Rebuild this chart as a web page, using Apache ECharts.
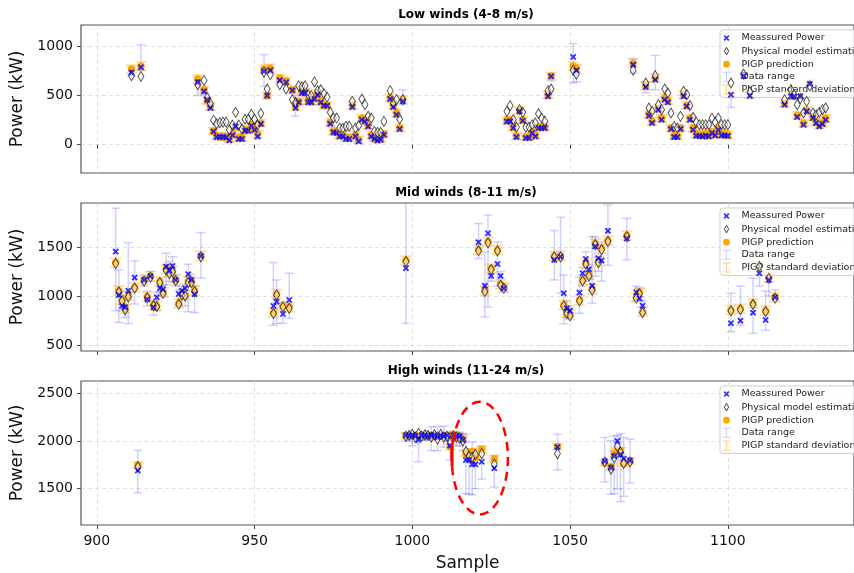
<!DOCTYPE html>
<html>
<head>
<meta charset="utf-8">
<script src="https://cdn.jsdelivr.net/npm/echarts@6/dist/echarts.min.js"></script>
<style>
html, body { margin: 0; padding: 0; background: #fff; }
#chart { width: 854px; height: 573px; }
</style>
</head>
<body>
<div id="chart"></div>
<script>
// ---- low winds (4-8 m/s) ----
const lowSample   = [911, 914, 932, 934, 935, 936, 937, 938, 939, 940, 941, 942, 943, 944, 945, 946, 947, 948, 949, 950, 951, 952, 953, 954, 955, 958, 960, 962, 963, 964, 965, 966, 967, 968, 969, 970, 971, 972, 973, 974, 975, 976, 977, 978, 979, 980, 981, 982, 983, 984, 985, 986, 987, 988, 989, 990, 991, 993, 994, 995, 996, 997,
  1030, 1031, 1032, 1033, 1034, 1035, 1036, 1037, 1038, 1039, 1040, 1041, 1042, 1043, 1044, 1051, 1052,
  1070, 1074, 1075, 1076, 1077, 1078, 1079, 1080, 1081, 1082, 1083, 1084, 1085, 1086, 1087, 1088, 1089, 1090, 1091, 1092, 1093, 1094, 1095, 1096, 1097, 1098, 1099, 1100, 1101, 1105, 1107,
  1118, 1120, 1121, 1122, 1123, 1124, 1125, 1126, 1127, 1128, 1129, 1130, 1131];
const lowMeasured = [737, 789, 636, 544, 459, 374, 136, 78, 80, 80, 75, 44, 96, 187, 58, 58, 143, 143, 194, 150, 85, 211, 748, 500, 758, 656, 636, 554, 374, 432, 527, 527, 432, 432, 466, 510, 432, 398, 398, 214, 126, 119, 85, 85, 58, 58, 384, 85, 34, 255, 238, 187, 85, 58, 44, 51, 102, 466, 384, 306, 160, 442,
  238, 238, 170, 78, 340, 245, 68, 68, 119, 85, 170, 170, 170, 493, 697, 894, 758,
  816, 588, 296, 221, 663, 357, 255, 459, 432, 160, 78, 78, 160, 493, 391, 255, 153, 92, 90, 85, 95, 85, 120, 95, 150, 95, 95, 90, 510, 700, 500,
  408, 493, 493, 282, 493, 204, 340, 620, 272, 221, 187, 211, 255];
const lowPhysical = [704, 697, 612, 655, 480, 420, 250, 215, 225, 230, 230, 150, 200, 330, 200, 160, 260, 260, 310, 260, 200, 320, 740, 568, 714, 612, 568, 459, 430, 600, 590, 600, 510, 500, 640, 550, 560, 520, 486, 330, 272, 272, 170, 170, 187, 190, 442, 170, 194, 466, 408, 290, 272, 136, 126, 126, 238, 551, 425, 459, 262, 459,
  340, 398, 255, 180, 357, 330, 180, 180, 204, 221, 316, 272, 240, 551, 568, 760, 720,
  760, 629, 374, 340, 704, 408, 357, 568, 527, 323, 187, 170, 289, 544, 510, 398, 280, 228, 204, 204, 204, 204, 272, 230, 272, 204, 204, 204, 629, 720, 540,
  459, 560, 510, 408, 470, 323, 442, 600, 323, 306, 330, 357, 374];
const lowPigp     = [772, 800, 670, 560, 450, 390, 140, 90, 80, 85, 80, 60, 110, 180, 70, 70, 150, 150, 200, 170, 110, 220, 770, 500, 780, 680, 650, 560, 390, 440, 540, 540, 450, 440, 480, 520, 440, 400, 400, 230, 140, 130, 100, 100, 70, 70, 400, 100, 50, 270, 250, 200, 100, 70, 60, 60, 110, 480, 400, 320, 170, 460,
  250, 250, 180, 90, 350, 250, 80, 80, 130, 100, 180, 180, 180, 510, 700, 800, 780,
  830, 600, 310, 240, 680, 370, 270, 480, 450, 170, 90, 90, 170, 510, 400, 270, 170, 110, 100, 100, 110, 100, 130, 110, 160, 110, 110, 100, 520, 714, 510,
  420, 500, 500, 300, 500, 220, 350, 630, 280, 230, 200, 220, 270];
const lowRangeLo  = [700, 760, 500, 510, 420, 350, 110, 60, 60, 60, 60, 30, 80, 160, 40, 40, 120, 120, 170, 130, 60, 190, 595, 480, 730, 630, 610, 520, 290, 410, 500, 500, 410, 410, 440, 490, 410, 380, 380, 190, 100, 100, 60, 60, 40, 40, 360, 60, 20, 230, 210, 160, 60, 40, 20, 30, 80, 440, 360, 280, 140, 410,
  210, 210, 150, 60, 320, 220, 50, 50, 100, 60, 150, 150, 150, 470, 650, 630, 640,
  730, 530, 270, 200, 560, 330, 230, 440, 410, 140, 60, 60, 140, 470, 370, 230, 130, 70, 70, 60, 70, 60, 100, 70, 130, 70, 70, 70, 380, 600, 470,
  390, 470, 470, 260, 470, 180, 320, 600, 250, 200, 170, 190, 230];
const lowRangeHi  = [790, 1020, 690, 580, 480, 400, 160, 100, 100, 100, 100, 70, 120, 210, 80, 80, 170, 170, 220, 180, 120, 240, 918, 520, 790, 690, 660, 580, 500, 460, 550, 550, 460, 460, 490, 530, 460, 420, 420, 240, 150, 140, 110, 110, 80, 80, 410, 110, 60, 280, 260, 210, 110, 80, 70, 70, 120, 490, 410, 330, 180, 560,
  260, 260, 190, 100, 360, 270, 90, 90, 140, 110, 190, 190, 190, 520, 720, 1030, 800,
  880, 640, 320, 250, 910, 380, 280, 490, 460, 180, 100, 100, 180, 520, 410, 280, 180, 120, 110, 110, 120, 110, 140, 120, 170, 120, 120, 110, 750, 750, 530,
  430, 520, 520, 310, 520, 230, 360, 650, 290, 240, 210, 230, 280];
const lowStd      = [40, 40, 40, 35, 35, 35, 35, 35, 35, 35, 35, 35, 35, 35, 35, 35, 35, 35, 35, 35, 35, 35, 40, 35, 40, 35, 35, 35, 35, 35, 35, 35, 35, 35, 35, 35, 35, 35, 35, 35, 35, 35, 35, 35, 35, 35, 35, 35, 35, 35, 35, 35, 35, 35, 35, 35, 35, 35, 35, 35, 35, 35,
  35, 35, 35, 35, 35, 35, 35, 35, 35, 35, 35, 35, 35, 35, 35, 40, 40,
  40, 40, 35, 35, 40, 35, 35, 35, 35, 35, 35, 35, 35, 35, 35, 35, 35, 35, 35, 35, 35, 35, 35, 35, 35, 35, 35, 35, 40, 40, 35,
  35, 35, 35, 35, 35, 35, 35, 35, 35, 35, 35, 35, 35];

// ---- mid winds (8-11 m/s) ----
const midSample   = [906, 907, 908, 909, 910, 912, 915, 916, 917, 918, 919, 920, 921, 922, 923, 924, 925, 926, 927, 928, 929, 930, 931, 933,
  956, 957, 959, 961, 998,
  1021, 1023, 1024, 1025, 1027, 1028, 1029, 1045, 1047, 1048, 1049, 1050, 1053, 1054, 1055, 1056, 1057, 1058, 1059, 1060, 1062, 1068, 1071, 1072, 1073,
  1101, 1104, 1108, 1110, 1112, 1113, 1115];
const midMeasured = [1452, 1010, 898, 884, 1054, 1187, 1163, 966, 1201, 884, 986, 1078, 1068, 1299, 1258, 1306, 1163, 1020, 1054, 1078, 1221, 1163, 1017, 1408,
  898, 942, 816, 959, 1282,
  1548, 1105, 1639, 1204, 1326, 1204, 1078, 1367, 1400, 1027, 874, 850, 1034, 1231, 1377, 1272, 1105, 1503, 1384, 1360, 1663, 1585, 1037, 976, 901,
  721, 748, 830, 1231, 755, 1163, 986];
const midPhysical = [1330, 1040, 950, 860, 990, 1080, 1150, 980, 1190, 900, 890, 1135, 1025, 1262, 1228, 1245, 1155, 915, 1010, 1000, 1136, 1136, 1044, 1398,
  820, 1010, 888, 874, 1350,
  1460, 1044, 1541, 1269, 1459, 1109, 1078, 1398, 1398, 898, 820, 796, 949, 1153, 1323, 1204, 1058, 1524, 1340, 1470, 1555, 1605, 976, 1024, 830,
  847, 860, 913, 1300, 840, 1180, 976];
const midPigp     = [1340, 1054, 959, 870, 1000, 1088, 1163, 993, 1201, 908, 898, 1146, 1034, 1272, 1238, 1255, 1163, 925, 1020, 1010, 1146, 1146, 1054, 1408,
  830, 1020, 898, 884, 1360,
  1470, 1054, 1551, 1279, 1469, 1119, 1088, 1408, 1408, 908, 830, 806, 959, 1163, 1333, 1214, 1068, 1534, 1350, 1480, 1565, 1615, 986, 1034, 840,
  857, 870, 923, 1300, 850, 1190, 986];
const midRangeLo  = [850, 730, 850, 780, 718, 918, 1100, 900, 1150, 806, 860, 1040, 1000, 1112, 1150, 1140, 1100, 900, 960, 900, 840, 1100, 830, 1180,
  700, 720, 721, 772, 720,
  1381, 785, 888, 1150, 1100, 1100, 1040, 1163, 1027, 717, 780, 780, 823, 1100, 1150, 1180, 925, 1200, 1250, 1150, 1312, 1367, 950, 950, 820,
  636, 700, 619, 1100, 650, 1000, 950];
const midRangeHi  = [1894, 1265, 1050, 1000, 1544, 1357, 1210, 1050, 1250, 959, 1040, 1120, 1110, 1435, 1350, 1400, 1220, 1060, 1100, 1120, 1323, 1220, 1100, 1646,
  1340, 1163, 925, 1231, 1960,
  1738, 1449, 1826, 1300, 1550, 1250, 1120, 1667, 1802, 1214, 950, 900, 1190, 1290, 1450, 1320, 1605, 1600, 1520, 1550, 1925, 1791, 1100, 1080, 950,
  1027, 1100, 1180, 1700, 1050, 1500, 1060];
const midStd      = [45, 45, 45, 45, 45, 45, 45, 45, 45, 45, 45, 45, 45, 45, 45, 45, 45, 45, 45, 45, 45, 45, 45, 45,
  45, 45, 45, 45, 45,
  45, 45, 45, 45, 45, 45, 45, 45, 45, 45, 45, 45, 45, 45, 45, 45, 45, 45, 45, 45, 45, 45, 45, 45, 45,
  45, 45, 45, 45, 45, 45, 45];

// ---- high winds (11-24 m/s) ----
const highSample   = [913, 998, 999, 1000, 1001, 1002, 1003, 1004, 1005, 1006, 1007, 1008, 1009, 1010, 1011, 1012, 1013, 1014, 1015, 1016, 1017, 1018, 1019, 1020, 1022, 1026,
  1046, 1061, 1063, 1064, 1065, 1066, 1067, 1069];
const highMeasured = [1691, 2060, 2055, 2060, 2055, 2013, 2060, 2060, 2050, 2060, 2060, 2040, 2060, 2050, 2060, 1952, 2060, 2055, 2050, 2010, 1800, 1800, 1755, 1755, 1782, 1714,
  1936, 1789, 1720, 1840, 2000, 1857, 1816, 1796];
const highPhysical = [1730, 2050, 2060, 2070, 2040, 2080, 2050, 2065, 2060, 2040, 2065, 2020, 2070, 2040, 2050, 1980, 2050, 2040, 2030, 2000, 1890, 1840, 1830, 1860, 1867, 1758,
  1867, 1780, 1704, 1823, 1942, 1880, 1765, 1780];
const highPigp     = [1748, 2055, 2050, 2055, 2050, 2055, 2050, 2055, 2045, 2055, 2055, 2045, 2055, 2055, 2055, 1940, 2070, 2060, 2040, 2020, 1870, 1830, 1890, 1830, 1911, 1812,
  1940, 1772, 1728, 1867, 1894, 1901, 1765, 1789];
const highRangeLo  = [1459, 2000, 2000, 1950, 1980, 1782, 2010, 2010, 2010, 1900, 2010, 1898, 2020, 1935, 2000, 1800, 2000, 1950, 1950, 1900, 1448, 1442, 1435, 1500, 1600, 1517,
  1697, 1571, 1442, 1450, 1500, 1364, 1420, 1560];
const highRangeHi  = [1901, 2080, 2080, 2090, 2090, 2060, 2090, 2090, 2080, 2150, 2090, 2150, 2090, 2156, 2080, 2000, 2100, 2090, 2090, 2080, 2071, 1918, 1986, 1900, 1950, 1850,
  2071, 2037, 2003, 2050, 2060, 2078, 2037, 2020];
const highStd      = [30, 30, 30, 30, 30, 30, 30, 30, 30, 30, 30, 30, 30, 30, 30, 30, 30, 30, 30, 30, 30, 30, 30, 30, 30, 30,
  30, 30, 30, 30, 30, 30, 30, 30];

// annotations on the high-wind panel (data units)
const markSegments = [[[1012.6, 1969], [1012.6, 1732]], [[1013.3, 2089], [1013.5, 2003]]];
const ellipseCenter = [1021.4, 1821];
const ellipseRadius = [8.9, 590];

const xTicks = [900, 950, 1000, 1050, 1100];
const lowTicks = [0, 500, 1000];
const midTicks = [500, 1000, 1500];
const highTicks = [1500, 2000, 2500];

const names = ['Meassured Power', 'Physical model estimation', 'PIGP prediction', 'Data range', 'PIGP standard deviation'];

const panels = [
  { title: 'Low winds (4-8 m/s)', top: 25, yMin: -288, yMax: 1220, ticks: lowTicks,
    s: lowSample, m: lowMeasured, p: lowPhysical, g: lowPigp, lo: lowRangeLo, hi: lowRangeHi, sd: lowStd },
  { title: 'Mid winds (8-11 m/s)', top: 203, yMin: 439, yMax: 1947, ticks: midTicks,
    s: midSample, m: midMeasured, p: midPhysical, g: midPigp, lo: midRangeLo, hi: midRangeHi, sd: midStd },
  { title: 'High winds (11-24 m/s)', top: 381, yMin: 1120, yMax: 2628, ticks: highTicks,
    s: highSample, m: highMeasured, p: highPhysical, g: highPigp, lo: highRangeLo, hi: highRangeHi, sd: highStd }
];

const FONT = 'DejaVu Sans';
const GRID_LEFT = 81, GRID_W = 777, GRID_H = 148;

const symX = 'path://M2,0 L5,3 L8,0 L10,2 L7,5 L10,8 L8,10 L5,7 L2,10 L0,8 L3,5 L0,2 Z';
const symDiamond = 'path://M3,0 L6,5 L3,10 L0,5 Z';
// legend icons, padded inside a 10x10 box so they come out smaller
const pad = 'M0,0 L0,0 M10,10 L10,10 ';
const iconX = 'path://' + pad + 'M3.2,2 L5,3.8 L6.8,2 L8,3.2 L6.2,5 L8,6.8 L6.8,8 L5,6.2 L3.2,8 L2,6.8 L3.8,5 L2,3.2 Z';
const iconDiamond = 'path://' + pad + 'M5,1.2 L7.1,5 L5,8.8 L2.9,5 Z';
const iconCircle = 'path://' + pad + 'M5,1.6 A3.4,3.4 0 1 1 4.99,1.6 Z';
const iconBar = 'path://M1,0 L9,0 L9,1 L5.5,1 L5.5,9 L9,9 L9,10 L1,10 L1,9 L4.5,9 L4.5,1 L1,1 Z';

function errorBar(capHalf, color, width) {
  return function (params, api) {
    const x = api.value(0);
    const top = api.coord([x, api.value(2)]);
    const bot = api.coord([x, api.value(1)]);
    const style = { stroke: color, lineWidth: width, fill: null };
    return {
      type: 'group',
      children: [
        { type: 'line', shape: { x1: top[0], y1: top[1], x2: bot[0], y2: bot[1] }, style: style },
        { type: 'line', shape: { x1: top[0] - capHalf, y1: top[1], x2: top[0] + capHalf, y2: top[1] }, style: style },
        { type: 'line', shape: { x1: bot[0] - capHalf, y1: bot[1], x2: bot[0] + capHalf, y2: bot[1] }, style: style }
      ]
    };
  };
}

const chart = echarts.init(document.getElementById('chart'), null, { renderer: 'canvas' });

const grid = [], xAxis = [], yAxis = [], series = [], legend = [], graphic = [];
const plainNum = function (v) { return String(v); };

panels.forEach(function (p, i) {
  const last = i === panels.length - 1;
  grid.push({ left: GRID_LEFT, top: p.top, width: GRID_W, height: GRID_H, show: true,
    borderColor: '#555', borderWidth: 1.2, backgroundColor: '#fff' });
  xAxis.push({
    type: 'value', gridIndex: i, min: 895, max: 1140,
    axisLine: { show: false },
    axisTick: { show: true, length: 4, customValues: xTicks, lineStyle: { color: '#444' } },
    axisLabel: { show: last, customValues: xTicks, formatter: plainNum, margin: 9, fontSize: 14, fontFamily: FONT, color: '#111' },
    splitLine: { show: true, lineStyle: { color: '#d8d8d8', type: [4, 3], width: 0.8 } },
    name: last ? 'Sample' : '', nameLocation: 'middle', nameGap: 30,
    nameTextStyle: { fontSize: 17, fontFamily: FONT, color: '#111' }
  });
  yAxis.push({
    type: 'value', gridIndex: i, min: p.yMin, max: p.yMax,
    axisLine: { show: false },
    axisTick: { show: true, length: 4, customValues: p.ticks, lineStyle: { color: '#444' } },
    axisLabel: { customValues: p.ticks, formatter: plainNum, margin: 8, fontSize: 14, fontFamily: FONT, color: '#111' },
    splitLine: { show: true, lineStyle: { color: '#d8d8d8', type: [4, 3], width: 0.8 } },
    name: 'Power (kW)', nameLocation: 'middle', nameGap: 41,
    nameTextStyle: { fontSize: 17, fontFamily: FONT, color: '#111' }
  });

  series.push({
    name: 'Data range', type: 'custom', xAxisIndex: i, yAxisIndex: i, clip: true, z: 1,
    itemStyle: { color: 'rgba(0,0,255,0.2)' },
    renderItem: errorBar(4.5, 'rgba(0,0,255,0.18)', 1.5),
    encode: { x: 0, y: [1, 2] },
    data: p.s.map(function (s, k) { return [s, p.lo[k], p.hi[k]]; })
  });
  series.push({
    name: 'PIGP standard deviation', type: 'custom', xAxisIndex: i, yAxisIndex: i, clip: true, z: 2,
    itemStyle: { color: 'rgba(255,165,0,0.5)' },
    renderItem: errorBar(5.5, 'rgba(255,165,0,0.45)', 1.5),
    encode: { x: 0, y: [1, 2] },
    data: p.s.map(function (s, k) { return [s, p.g[k] - p.sd[k], p.g[k] + p.sd[k]]; })
  });
  series.push({
    name: 'PIGP prediction', type: 'scatter', xAxisIndex: i, yAxisIndex: i, z: 3,
    symbol: 'circle', symbolSize: 7.5, itemStyle: { color: '#FFA500', opacity: 1 },
    data: p.s.map(function (s, k) { return [s, p.g[k]]; })
  });
  series.push({
    name: 'Physical model estimation', type: 'scatter', xAxisIndex: i, yAxisIndex: i, z: 4,
    symbol: symDiamond, symbolSize: [6, 10],
    itemStyle: { color: 'rgba(255,255,255,0.6)', borderColor: '#111', borderWidth: 0.9 },
    data: p.s.map(function (s, k) { return [s, p.p[k]]; })
  });
  series.push({
    name: 'Meassured Power', type: 'scatter', xAxisIndex: i, yAxisIndex: i, z: 5,
    symbol: symX, symbolSize: 6.5, itemStyle: { color: '#0000FF' },
    data: p.s.map(function (s, k) { return [s, p.m[k]]; })
  });

  legend.push({
    orient: 'vertical', left: 720, top: p.top + 5,
    itemWidth: 20, itemHeight: 10, itemGap: 2.6,
    padding: [3, 60, 3, 1],
    backgroundColor: 'rgba(255,255,255,0.8)', borderColor: '#cfcfcf', borderWidth: 1, borderRadius: 3,
    textStyle: { fontFamily: FONT, fontSize: 9.5, color: '#222', lineHeight: 10 },
    selectedMode: false,
    data: [
      { name: names[0], icon: iconX },
      { name: names[1], icon: iconDiamond, itemStyle: { color: '#fff', borderColor: '#111', borderWidth: 1 } },
      { name: names[2], icon: iconCircle },
      { name: names[3], icon: iconBar },
      { name: names[4], icon: iconBar }
    ]
  });

  graphic.push({
    type: 'text', x: 466, y: p.top - 16, z: 10,
    style: { text: p.title, align: 'center', verticalAlign: 'top', fill: '#000',
      font: 'bold 12px "DejaVu Sans"' }
  });
});

// red highlight on the high-wind panel
markSegments.forEach(function (seg) {
  series.push({
    type: 'line', xAxisIndex: 2, yAxisIndex: 2, z: 6, symbol: 'none',
    lineStyle: { color: '#ff0000', width: 3 }, data: seg
  });
});

chart.setOption({
  animation: false,
  backgroundColor: '#fff',
  grid: grid, xAxis: xAxis, yAxis: yAxis, legend: legend, series: series, graphic: graphic
});

// dashed ellipse around the high-wind drop, placed through the axis scales
const c = chart.convertToPixel({ gridIndex: 2 }, ellipseCenter);
const e = chart.convertToPixel({ gridIndex: 2 }, [ellipseCenter[0] + ellipseRadius[0], ellipseCenter[1] + ellipseRadius[1]]);
graphic.push({
  type: 'ellipse', z: 20,
  shape: { cx: c[0], cy: c[1], rx: Math.abs(e[0] - c[0]), ry: Math.abs(e[1] - c[1]) },
  style: { stroke: '#ff0000', fill: 'none', lineWidth: 2.5, lineDash: [9, 6] }
});
chart.setOption({ graphic: graphic });
</script>
</body>
</html>
